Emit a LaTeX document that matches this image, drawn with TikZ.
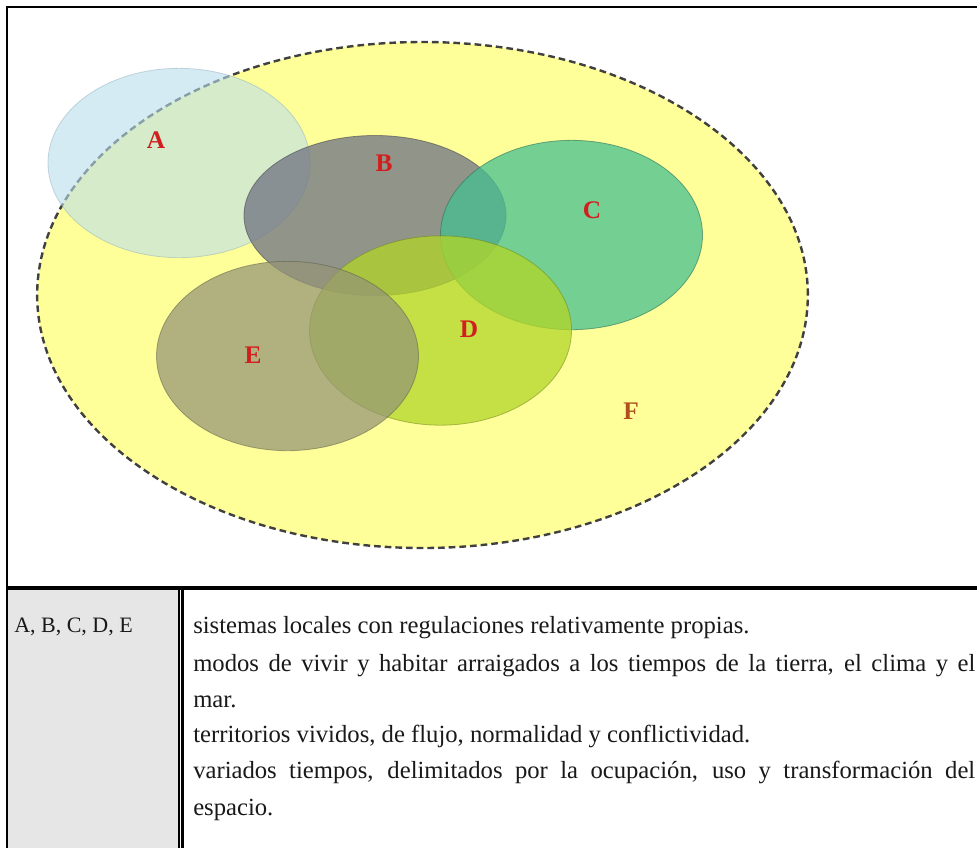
\documentclass[tikz,border=0pt]{standalone}
\usepackage{fontspec}
\setmainfont{Liberation Serif}
\usetikzlibrary{shapes.geometric}
\definecolor{set_f}{RGB}{255, 255, 153}
\definecolor{set_a}{RGB}{185, 222, 236}
\definecolor{set_b}{RGB}{118, 122, 134}
\definecolor{set_c}{RGB}{70, 192, 145}
\definecolor{set_d}{RGB}{178, 214, 40}
\definecolor{set_e}{RGB}{148, 148, 118}
\definecolor{lbl_red}{RGB}{210, 30, 30}
\definecolor{lbl_brown}{RGB}{175, 80, 30}
\definecolor{cell_gray}{RGB}{230, 230, 230}
\tikzstyle{set}=[ellipse,inner sep=0pt,line width=0.6pt,
  minimum width=196.5pt,minimum height=142pt]
\tikzstyle{fset}=[set,fill=set_f,draw=black!75,line width=1.8pt,
  dash pattern=on 5pt off 3pt,minimum width=578pt,minimum height=379.5pt]
\tikzstyle{aset}=[set,fill=set_a,fill opacity=0.6,draw=set_a!80!black,draw opacity=0.5]
\tikzstyle{bset}=[set,fill=set_b,fill opacity=0.8,draw=set_b!60!black,draw opacity=0.6,
  minimum height=120pt]
\tikzstyle{cset}=[set,fill=set_c,fill opacity=0.75,draw=set_c!60!black,draw opacity=0.6]
\tikzstyle{dset}=[set,fill=set_d,fill opacity=0.75,draw=set_d!60!black,draw opacity=0.5]
\tikzstyle{eset}=[set,fill=set_e,fill opacity=0.72,draw=set_e!60!black,draw opacity=0.5]
\tikzstyle{lbl}=[font=\fontsize{19}{19}\selectfont\bfseries,text=lbl_red,inner sep=0pt]
\tikzstyle{cell}=[anchor=base west,inner sep=0pt,text=black!90,
  font=\fontsize{18.5}{22}\selectfont]
\tikzstyle{none}=[]

\begin{document}
\begin{tikzpicture}[x=0.75pt,y=-0.75pt]
            \useasboundingbox (0, 0) rectangle (977, 847);
            \clip (0, 0) rectangle (977, 847);
            \fill [white] (0, 0) rectangle (977, 847);
            \node [style=fset] (0) at (422.5, 295) {};
            \node [style=aset] (1) at (179, 163) {};
            \node [style=bset] (2) at (375, 215.5) {};
            \node [style=cset] (3) at (571.5, 235) {};
            \node [style=dset] (4) at (440.5, 330.5) {};
            \node [style=eset] (5) at (287.5, 356) {};
            \node [style=lbl] (6) at (156, 140) {A};
            \node [style=lbl] (7) at (384, 163) {B};
            \node [style=lbl] (8) at (592, 210) {C};
            \node [style=lbl] (9) at (469, 329) {D};
            \node [style=lbl] (10) at (253, 355) {E};
            \node [style=lbl, text=lbl_brown] (11) at (631, 411) {F};
            \node [style=none] (12) at (7, 7) {};
            \node [style=none] (13) at (995, 7) {};
            \node [style=none] (14) at (7, 860) {};
            \node [style=none] (15) at (7, 588) {};
            \node [style=none] (16) at (995, 588) {};
            \node [style=none] (17) at (179, 588) {};
            \node [style=none] (18) at (179, 860) {};
            \node [style=none] (19) at (182.5, 588) {};
            \node [style=none] (20) at (182.5, 860) {};
            \fill [cell_gray] (15.center) rectangle (18.center);
            \draw [line width=1.5pt] (14.center) to (12.center) to (13.center);
            \draw [line width=3pt] (15.center) to (16.center);
            \draw [line width=0.8pt] (17.center) to (18.center);
            \draw [line width=1.8pt] (19.center) to (20.center);
            \node [style=cell, font=\fontsize{16.5}{20}\selectfont] (21) at (14, 632) {A, B, C, D, E};
            \node [style=cell] (22) at (193, 633) {sistemas locales con regulaciones relativamente propias.};
            \node [style=cell] (23) at (193, 671) {\makebox[586.5pt][s]{modos de vivir y habitar arraigados a los tiempos de la tierra, el clima y el}};
            \node [style=cell] (24) at (193, 707) {mar.};
            \node [style=cell] (25) at (193, 742) {territorios vividos, de flujo, normalidad y conflictividad.};
            \node [style=cell] (26) at (193, 778) {\makebox[586.5pt][s]{variados tiempos, delimitados por la ocupación, uso y transformación del}};
            \node [style=cell] (27) at (193, 815) {espacio.};
    \end{tikzpicture}
\end{document}
